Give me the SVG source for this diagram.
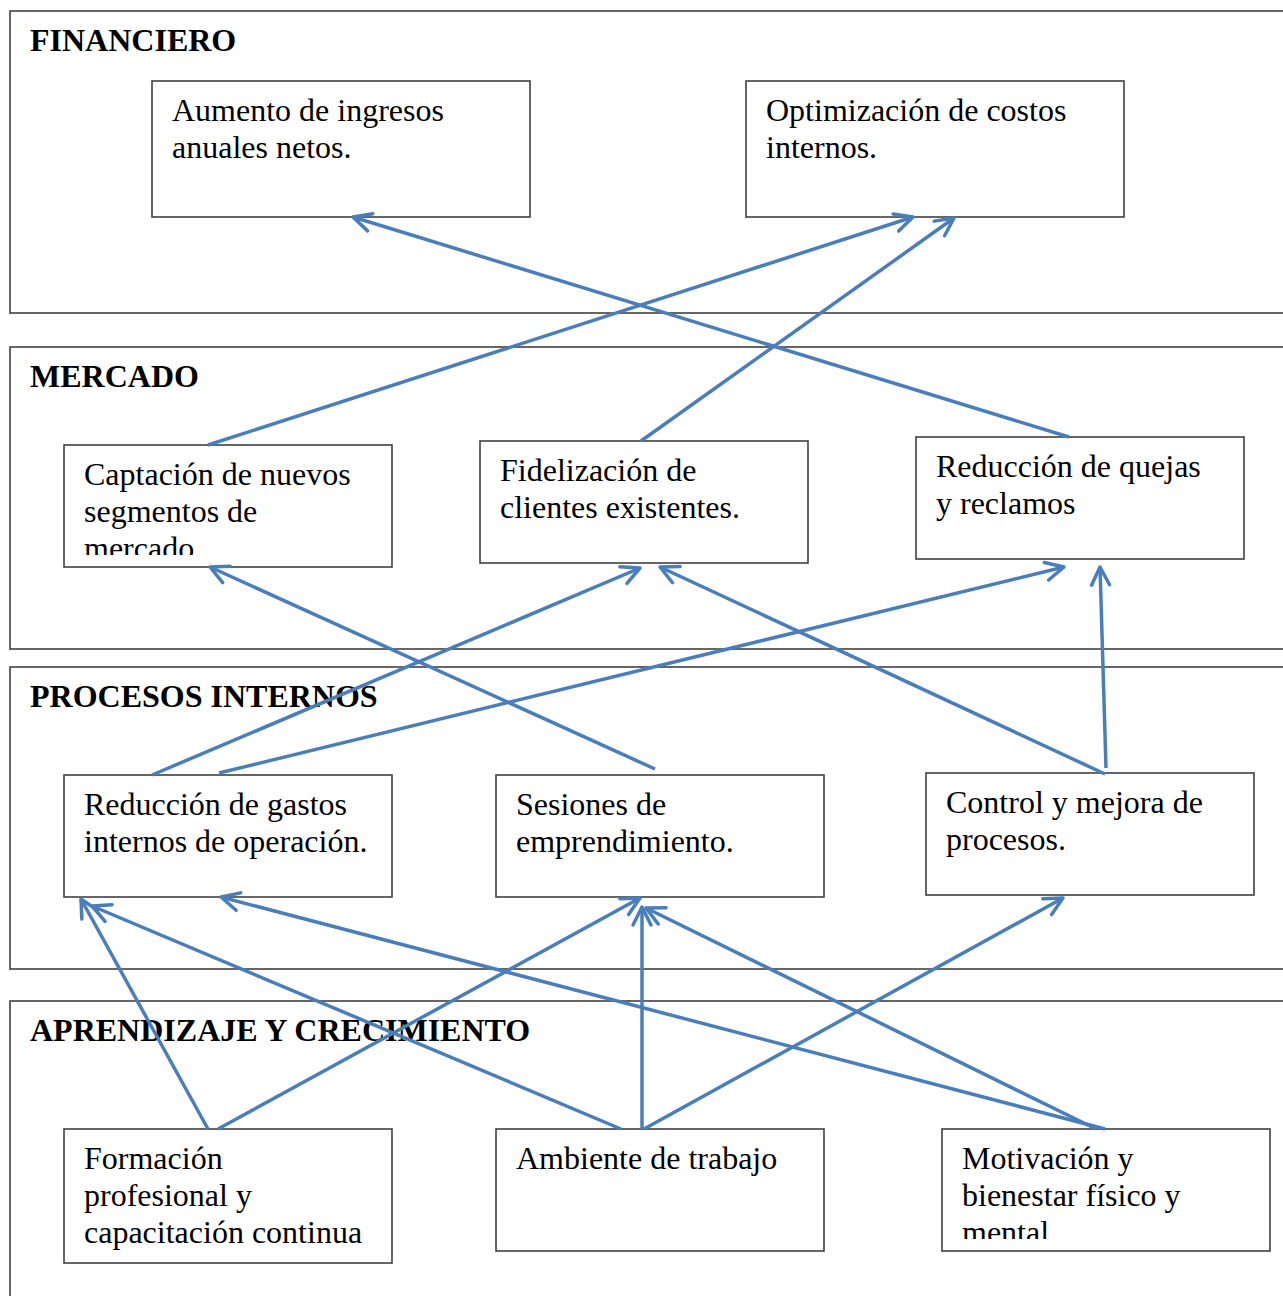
<svg xmlns="http://www.w3.org/2000/svg" width="1283" height="1296" viewBox="0 0 1283 1296">
<defs>
<style>
.sec{fill:none;stroke:#404040;stroke-width:1.6}
.box{fill:#fff;stroke:#404040;stroke-width:1.6}
.t{font-family:"Liberation Serif","Times New Roman",serif;font-size:32px;fill:#000}
.h{font-family:"Liberation Serif","Times New Roman",serif;font-size:32px;font-weight:bold;fill:#000}
.c{fill:none;stroke:#4a7ebb;stroke-width:3.5;marker-end:url(#arr)}
</style>
<marker id="arr" viewBox="0 0 24 24" markerWidth="24" markerHeight="24" refX="21" refY="12" orient="auto" markerUnits="userSpaceOnUse">
<path d="M3,3 L21,12 L3,21" fill="none" stroke="#4a7ebb" stroke-width="3.5" stroke-linecap="round" stroke-linejoin="round"/>
</marker>
<clipPath id="clipCap"><rect x="64" y="445" width="328" height="110"/></clipPath>
<clipPath id="clipMot"><rect x="942" y="1129" width="328" height="110"/></clipPath>
</defs>

<g id="sections">
<g id="sec-financiero"><rect class="sec" x="10" y="11" width="1290" height="302"/><text class="h" x="30" y="51">FINANCIERO</text></g>
<g id="sec-mercado"><rect class="sec" x="10" y="347" width="1290" height="302"/><text class="h" x="30" y="387">MERCADO</text></g>
<g id="sec-procesos"><rect class="sec" x="10" y="667" width="1290" height="302"/><text class="h" x="30" y="707">PROCESOS INTERNOS</text></g>
<g id="sec-aprendizaje"><rect class="sec" x="10" y="1001" width="1290" height="320"/><text class="h" x="30" y="1041">APRENDIZAJE Y CRECIMIENTO</text></g>
</g>

<g id="n-aumento"><rect class="box" x="152" y="81" width="378" height="136"/><text class="t" x="172" y="121">Aumento de ingresos</text><text class="t" x="172" y="158">anuales netos.</text></g>
<g id="n-optimizacion"><rect class="box" x="746" y="81" width="378" height="136"/><text class="t" x="766" y="121">Optimización de costos</text><text class="t" x="766" y="158">internos.</text></g>

<g id="n-captacion"><rect class="box" x="64" y="445" width="328" height="122"/><g clip-path="url(#clipCap)"><text class="t" x="84" y="485">Captación de nuevos</text><text class="t" x="84" y="522">segmentos de</text><text class="t" x="84" y="559">mercado</text></g></g>
<g id="n-fidelizacion"><rect class="box" x="480" y="441" width="328" height="122"/><text class="t" x="500" y="481">Fidelización de</text><text class="t" x="500" y="518">clientes existentes.</text></g>
<g id="n-quejas"><rect class="box" x="916" y="437" width="328" height="122"/><text class="t" x="936" y="477">Reducción de quejas</text><text class="t" x="936" y="514">y reclamos</text></g>

<g id="n-gastos"><rect class="box" x="64" y="775" width="328" height="122"/><text class="t" x="84" y="815">Reducción de gastos</text><text class="t" x="84" y="852">internos de operación.</text></g>
<g id="n-sesiones"><rect class="box" x="496" y="775" width="328" height="122"/><text class="t" x="516" y="815">Sesiones de</text><text class="t" x="516" y="852">emprendimiento.</text></g>
<g id="n-control"><rect class="box" x="926" y="773" width="328" height="122"/><text class="t" x="946" y="813">Control y mejora de</text><text class="t" x="946" y="850">procesos.</text></g>

<g id="n-formacion"><rect class="box" x="64" y="1129" width="328" height="134"/><text class="t" x="84" y="1169">Formación</text><text class="t" x="84" y="1206">profesional y</text><text class="t" x="84" y="1243">capacitación continua</text></g>
<g id="n-ambiente"><rect class="box" x="496" y="1129" width="328" height="122"/><text class="t" x="516" y="1169">Ambiente de trabajo</text></g>
<g id="n-motivacion"><rect class="box" x="942" y="1129" width="328" height="122"/><g clip-path="url(#clipMot)"><text class="t" x="962" y="1169">Motivación y</text><text class="t" x="962" y="1206">bienestar físico y</text><text class="t" x="962" y="1243">mental.</text></g></g>

<g id="connectors">
<line class="c" x1="1069" y1="437" x2="353" y2="217"/>
<line class="c" x1="208" y1="445" x2="913" y2="217"/>
<line class="c" x1="641" y1="441" x2="954" y2="218"/>
<line class="c" x1="655" y1="769" x2="210" y2="567"/>
<line class="c" x1="152" y1="775" x2="640" y2="568"/>
<line class="c" x1="219" y1="773" x2="1064" y2="567"/>
<line class="c" x1="1105" y1="774" x2="660" y2="567"/>
<line class="c" x1="1106" y1="768" x2="1100" y2="567"/>
<line class="c" x1="208" y1="1129" x2="81" y2="899"/>
<line class="c" x1="218" y1="1129" x2="640" y2="898"/>
<line class="c" x1="621" y1="1129" x2="92" y2="906"/>
<line class="c" x1="642" y1="1129" x2="642" y2="907"/>
<line class="c" x1="644" y1="1129" x2="1063" y2="898"/>
<line class="c" x1="1105" y1="1129" x2="221" y2="897"/>
<line class="c" x1="1096" y1="1129" x2="646" y2="908"/>
</g>
</svg>
